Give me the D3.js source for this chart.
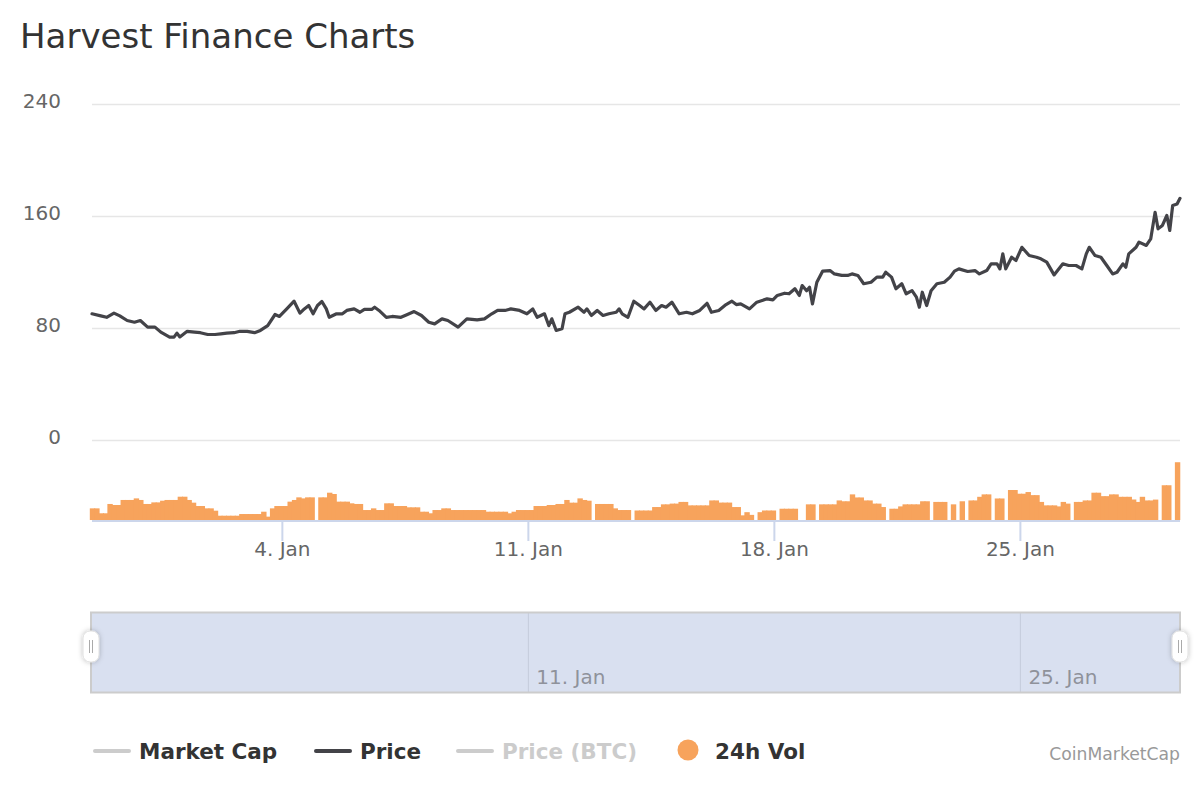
<!DOCTYPE html>
<html><head><meta charset="utf-8">
<script src="https://cdn.jsdelivr.net/npm/d3@7"></script>
<style>
body{margin:0;background:#fff}
svg{display:block}
text{font-family:"DejaVu Sans",sans-serif}
</style>
</head><body>
<svg id="chart" width="1200" height="800"></svg>
<script>
// ---------------- data ----------------
const chartTitle = "Harvest Finance Charts";
const creditText = "CoinMarketCap";
const startUTC = Date.UTC(2020, 11, 29); // hours below are counted from this instant

// Price (USD) readings: hour offset from start, value
const priceHours = [14,20,24,29,33,38,43,47,52,57,61,67,70,72,74,79,84,88,93,98,102,106,111,115,120,125,129,134,139,142,147,152,156,159,162,165,168,171,174,176,181,185,188,193,197,200,205,207,210,215,219,225,229,234,239,244,248,253,257,264,270,277,282,287,291,296,300,306,311,315,318,323,326,328,331,335,337,340,346,350,352,355,359,363,367,372,374,376,380,384,388,391,395,399,403,406,410,415,420,424,429,434,437,442,447,451,454,457,463,468,475,479,482,487,490,494,497,499,502,504,506,509,513,518,521,526,530,533,537,541,546,550,554,556,560,563,567,570,574,577,579,581,584,587,591,596,600,603,606,612,617,620,625,628,632,634,636,638,642,645,649,654,659,662,666,671,677,681,686,690,693,695,699,703,707,711,714,718,720,722,727,729,734,737,740,742,745,748,750,752,755,757];
const priceValues = [90.5,89,88,91,89,85.7,84.5,85.7,81,81,77.4,73.8,73.8,76.7,74,78,77.4,77,75.7,75.7,76.2,76.7,77,78,77.9,77,78.6,82,90,88.6,94,99.5,91,94,96.4,90.5,96.4,99.3,94,88,90.5,90.5,92.9,94,91.6,93.6,93.6,95.2,92.9,88,88.6,88,89.8,92.1,89.3,84.5,83.3,86.9,85.7,81,86.9,86.2,86.9,90.5,92.9,92.9,94,92.9,90.5,94,88,90.5,82,86.9,78.6,79.8,90.5,91.6,95.2,91.6,94,89.3,92.9,89.3,90.5,91.6,94,90.5,88,99.5,96.4,94,98.8,92.9,96.4,95.2,98.8,90.5,91.6,90.5,92.9,98,91.6,92.9,97.1,99.5,97.1,97.6,94,98.8,101.2,100.5,103.6,105.2,104.8,108.4,103.6,110.7,107,109.5,97.6,113,121,121.4,119,117.9,117.9,119,117.9,112,113,116.7,116.7,120.2,116.7,108.4,112,104.8,107,102.4,95.2,105.9,96.4,107,112,113,116.7,121,122.6,120.7,121.4,119,121.4,126.2,126.2,122.6,133.3,122.6,130.9,128.6,138,132.1,130.9,129.8,127.4,118.3,126.2,125,125,122.6,133.3,138,132.1,130.9,125,119,120.2,126.2,123.8,133.3,138,141.7,139.3,144,163,151.2,153.6,160.7,150,167.9,169,173];

// 24h volume (relative units, no axis shown), one bar every volStepHours from volStartHour; null = no data
const volStartHour = 14;
const volStepHours = 3;
const volumeValues = [
12.5,12.5,7.2,7.2,17.2,16.1,16.1,21.5,21.5,21.5,
23.2,21.5,17.2,17.2,18.9,18.9,20.7,21.5,21.5,21.5,
25,25,21.5,18.6,15,15,12.5,12.5,10,4.6,
4.6,4.6,4.6,4.6,6.4,6.4,6.4,6.4,6.4,8.9,
3.6,12.5,15,15,15,19.7,21.5,24.3,23.2,24.3,
24.3,null,24.3,24.3,29.3,27.9,19.7,19.7,19.7,17.9,
17.2,17.2,10.7,10.7,12.5,10.7,10.7,17.9,17.9,15,
15,15,13.6,13.6,13.6,8.9,8.9,7.2,10.7,10.7,
12.5,12.5,10.7,10.7,10.7,10.7,10.7,10.7,10.7,10.7,
8.9,8.9,8.9,8.9,8.9,7.2,8.9,10.7,10.7,10.7,
10.7,15,15,15,16.1,16.1,17.2,17.2,21.5,18.6,
18.6,23.2,21.5,20.7,null,17.2,17.2,17.2,17.2,12.5,
10.7,10.7,10.7,null,10.2,10.2,10.2,10.2,13.9,13.9,
16.8,16.8,17.6,17.6,19.4,19.4,15.7,15.7,15.7,15.7,
15.7,21,21,18.7,18.7,18.7,13.9,13.9,5,8.4,
5.5,null,8.4,10.2,10.2,10.2,null,12.1,12.1,12.1,
12.1,null,null,16.8,16.8,null,16.8,16.8,16.8,16.8,
21,20.1,20.1,27.5,24.2,24.2,21,21,17.6,17.6,
13.9,null,12.1,12.1,14.6,16.8,16.8,16.8,16.8,20.1,
20.1,null,19.4,19.4,19.4,null,16.8,null,20.1,null,
21,21,24.9,27.5,27.5,null,23.1,23.1,null,32.2,
32.2,28.2,28.2,30,26.7,26.7,19.4,15.7,15.7,15.7,
14.6,19.4,17.6,null,19.4,19.4,21,21,29.3,29.3,
25.6,25.6,27.5,27.5,24.9,24.9,24.9,22,19.4,24.9,
21,21,21.9,null,37.3,37.3,null,62];

const priceTicks = [0, 80, 160, 240];
const legendNames = ["Market Cap", "Price", "Price (BTC)", "24h Vol"];
const legendSymbolColors = ["#cccccc", "#434348", "#cccccc", "#f7a35c"];
const legendTextColors = ["#333333", "#333333", "#cccccc", "#333333"];
const legendSymbolTypes = ["line", "line", "line", "circle"];

// ---------------- drawing ----------------
const toDate = h => new Date(startUTC + h * 3600e3);
const svg = d3.select("#chart");
const X0 = 92, X1 = 1180;

const x = d3.scaleUtc()
  .domain([toDate(priceHours[0]), toDate(priceHours[priceHours.length - 1])])
  .range([X0, X1]);
const yP = d3.scaleLinear().domain([0, 240]).range([440.5, 104.5]);
const yV = d3.scaleLinear().domain([0, 88]).range([520, 438]);

// title
svg.append("text").attr("x", 20).attr("y", 48)
  .attr("font-size", 34).attr("fill", "#333").text(chartTitle);

// gridlines + y labels
const grid = svg.append("g");
priceTicks.forEach(t => {
  grid.append("line").attr("x1", X0).attr("x2", X1)
    .attr("y1", yP(t)).attr("y2", yP(t))
    .attr("stroke", "#e6e6e6").attr("stroke-width", 1.5);
  grid.append("text").attr("x", 61).attr("y", yP(t) + 3)
    .attr("text-anchor", "end").attr("font-size", 20).attr("fill", "#666").text(t);
});

// volume bars
const barW = x(toDate(volStepHours)) - x(toDate(0));
const volData = volumeValues.map((v, i) => ({ t: toDate(volStartHour + i * volStepHours), v }))
  .filter(d => d.v !== null);
svg.append("g").selectAll("rect").data(volData).join("rect")
  .attr("x", d => x(d.t) - barW / 2)
  .attr("width", barW + 1)
  .attr("y", d => yV(d.v))
  .attr("height", d => yV(0) - yV(d.v))
  .attr("fill", "#f7a35c");

// x axis
const xTicks = x.ticks(d3.utcMonday.every(1));
const fmt = d3.utcFormat("%-d. %b");
const ax = svg.append("g");
ax.append("line").attr("x1", X0).attr("x2", X1).attr("y1", 521).attr("y2", 521)
  .attr("stroke", "#ccd6eb").attr("stroke-width", 2);
xTicks.forEach(d => {
  ax.append("line").attr("x1", x(d)).attr("x2", x(d)).attr("y1", 521).attr("y2", 541)
    .attr("stroke", "#ccd6eb").attr("stroke-width", 2);
  ax.append("text").attr("x", x(d)).attr("y", 556).attr("text-anchor", "middle")
    .attr("font-size", 20).attr("fill", "#666").text(fmt(d));
});

// price line
const line = d3.line().x((d, i) => x(toDate(priceHours[i]))).y(d => yP(d));
svg.append("path").datum(priceValues).attr("d", line)
  .attr("fill", "none").attr("stroke", "#434348").attr("stroke-width", 3.2)
  .attr("stroke-linejoin", "round").attr("stroke-linecap", "round");

// navigator
const NY0 = 612.5, NY1 = 692.5;
const nav = svg.append("g");
nav.append("rect").attr("x", 91).attr("y", NY0).attr("width", X1 - 91).attr("height", NY1 - NY0)
  .attr("fill", "rgba(102,133,194,0.25)");
xTicks.filter((d, i) => i % 2 === 1).forEach(d => {
  nav.append("line").attr("x1", x(d)).attr("x2", x(d)).attr("y1", NY0).attr("y2", NY1)
    .attr("stroke", "#c4cbdb").attr("stroke-width", 1);
  nav.append("text").attr("x", x(d) + 8).attr("y", 684).attr("font-size", 20)
    .attr("fill", "#8f929b").text(fmt(d));
});
nav.append("rect").attr("x", 91).attr("y", NY0).attr("width", X1 - 91).attr("height", NY1 - NY0)
  .attr("fill", "none").attr("stroke", "#cccccc").attr("stroke-width", 2);

const defs = svg.append("defs");
const f = defs.append("filter").attr("id", "sh").attr("x", "-50%").attr("y", "-50%")
  .attr("width", "200%").attr("height", "200%");
f.append("feDropShadow").attr("dx", 0).attr("dy", 0).attr("stdDeviation", 2.5)
  .attr("flood-color", "#000").attr("flood-opacity", 0.25);
[91, X1].forEach(cx => {
  const g = nav.append("g");
  g.append("rect").attr("x", cx - 8).attr("y", 631).attr("width", 16).attr("height", 31)
    .attr("rx", 7).attr("fill", "#ffffff").attr("stroke", "#e0e0e0").attr("filter", "url(#sh)");
  [-1.5, 1.5].forEach(dx => g.append("line").attr("x1", cx + dx).attr("x2", cx + dx)
    .attr("y1", 640).attr("y2", 653).attr("stroke", "#aaa").attr("stroke-width", 1));
});

// legend
const legendX = [95, 316, 458, 678];
const leg = svg.append("g");
legendNames.forEach((name, i) => {
  const lx = legendX[i];
  if (legendSymbolTypes[i] === "line") {
    leg.append("line").attr("x1", lx).attr("x2", lx + 34).attr("y1", 751).attr("y2", 751)
      .attr("stroke", legendSymbolColors[i]).attr("stroke-width", 4).attr("stroke-linecap", "round");
    leg.append("text").attr("x", lx + 44).attr("y", 759).attr("font-size", 21.5)
      .attr("font-weight", "bold").attr("fill", legendTextColors[i]).text(name);
  } else {
    leg.append("circle").attr("cx", lx + 10).attr("cy", 750).attr("r", 10.5)
      .attr("fill", legendSymbolColors[i]);
    leg.append("text").attr("x", lx + 37).attr("y", 759).attr("font-size", 21.5)
      .attr("font-weight", "bold").attr("fill", legendTextColors[i]).text(name);
  }
});

// credit
svg.append("text").attr("x", 1180).attr("y", 760).attr("text-anchor", "end")
  .attr("font-size", 17.2).attr("fill", "#999").text(creditText);
</script>
</body></html>
